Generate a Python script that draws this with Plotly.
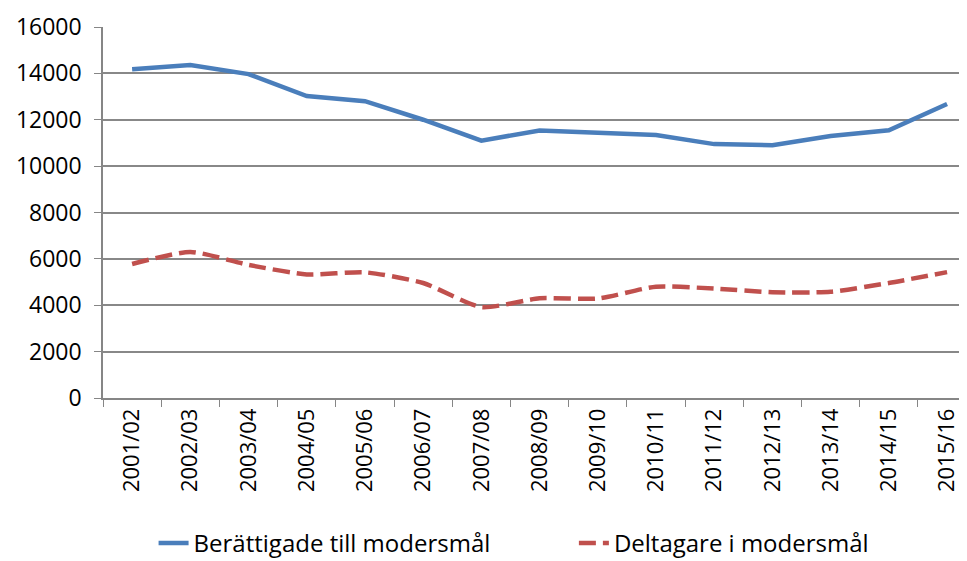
import plotly.graph_objects as go

years = ["2001/02", "2002/03", "2003/04", "2004/05", "2005/06", "2006/07", "2007/08",
         "2008/09", "2009/10", "2010/11", "2011/12", "2012/13", "2013/14", "2014/15", "2015/16"]
berattigade = [14180, 14360, 13970, 13020, 12800, 12000, 11100, 11540, 11440, 11340,
               10950, 10900, 11300, 11550, 12680]
deltagare = [5780, 6300, 5740, 5330, 5420, 4960, 3920, 4300, 4290, 4800,
             4720, 4560, 4580, 4960, 5430]
y_ticks = [0, 2000, 4000, 6000, 8000, 10000, 12000, 14000, 16000]

FONT = "'Open Sans', 'Noto Sans', sans-serif"

fig = go.Figure()
fig.add_trace(go.Scatter(x=years, y=berattigade, mode="lines",
                         name="Berättigade till modersmål", legend="legend",
                         line=dict(color="#4a7ebb", width=4.5)))
fig.add_trace(go.Scatter(x=years, y=deltagare, mode="lines",
                         name="Deltagare i modersmål", legend="legend2",
                         line=dict(color="#c0504d", width=4.5, dash="17px,7px",
                                   shape="spline", smoothing=0.6)))

fig.update_layout(
    width=967, height=561,
    margin=dict(l=95, r=0, t=19, b=171, autoexpand=False),
    plot_bgcolor="white", paper_bgcolor="white",
    font=dict(family=FONT, size=22, color="black"),
    showlegend=True,
    legend=dict(orientation="h", x=0.058, xanchor="left", y=-0.392, yanchor="middle",
                font=dict(size=24)),
    legend2=dict(orientation="h", x=0.54, xanchor="left", y=-0.392, yanchor="middle",
                 font=dict(size=24)),
    xaxis=dict(type="category", tickangle=-90, showgrid=False, automargin=False,
               range=[-0.5, 14.48],
               showline=True, linecolor="#868686", linewidth=1.5,
               ticks="outside", tickson="boundaries", ticklen=7, tickcolor="#868686",
               tickfont=dict(size=22)),
    yaxis=dict(range=[0, 16000], tickvals=y_ticks, tickformat="d", showgrid=True,
               automargin=False,
               gridcolor="#888888", gridwidth=1.5,
               showline=True, linecolor="#868686", linewidth=1.5,
               ticks="outside", ticklen=7, tickcolor="#868686",
               zeroline=False, tickfont=dict(size=23), ticklabelstandoff=8),
)

fig.write_html("out.html")
